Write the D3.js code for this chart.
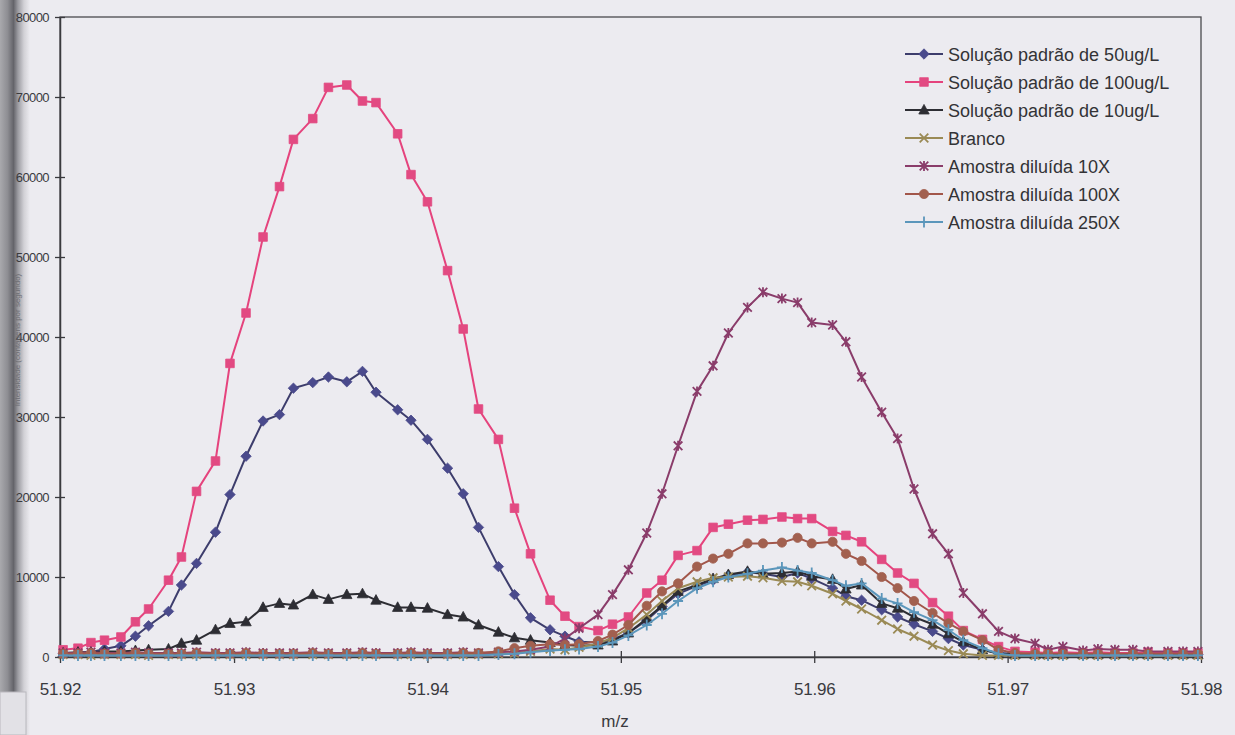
<!DOCTYPE html>
<html>
<head>
<meta charset="utf-8">
<script src="https://cdn.jsdelivr.net/npm/d3@7/dist/d3.min.js"></script>
<style>
  html, body { margin: 0; padding: 0; background: #ecebf0; }
  svg { display: block; }
  text { font-family: "Liberation Sans", Arial, sans-serif; }
</style>
</head>
<body>
<svg id="chart" width="1235" height="735"></svg>
<script>
// m/z of every scan point (shared by all series)
const mz = [
  51.92116, 51.92193, 51.92260, 51.92330, 51.92415, 51.92490, 51.92558, 51.92661, 51.92728, 51.92806,
  51.92904, 51.92979, 51.93062, 51.93150, 51.93235, 51.93307, 51.93407, 51.93488, 51.93583, 51.93664,
  51.93734, 51.93846, 51.93915, 51.94000, 51.94104, 51.94185, 51.94264, 51.94367, 51.94450, 51.94533,
  51.94634, 51.94711, 51.94784, 51.94882, 51.94957, 51.95039, 51.95134, 51.95213, 51.95296, 51.95394,
  51.95477, 51.95556, 51.95655, 51.95735, 51.95833, 51.95914, 51.95987, 51.96095, 51.96164, 51.96245,
  51.96349, 51.96431, 51.96516, 51.96612, 51.96694, 51.96771, 51.96870, 51.96953, 51.97038, 51.97142,
  51.97209, 51.97286, 51.97390, 51.97467, 51.97555, 51.97648, 51.97726, 51.97829, 51.97907, 51.97984
];

// intensities
const padrao50 = [
  400, 500, 600, 1000, 1400, 2600, 3900, 5700, 9000, 11700,
  15600, 20300, 25100, 29500, 30300, 33600, 34300, 35000, 34400, 35700,
  33100, 30900, 29600, 27200, 23600, 20400, 16200, 11300, 7800, 4900,
  3400, 2600, 1900, 1800, 2200, 3000, 4600, 6300, 7900, 8900,
  9600, 10200, 10600, 10400, 10000, 10500, 9800, 8600, 7600, 7100,
  5900, 5000, 4100, 3200, 2300, 1500, 900, 500, 400, 400,
  300, 400, 300, 300, 300, 300, 300, 300, 300, 300
];
const padrao100 = [
  900, 1100, 1800, 2100, 2500, 4400, 6000, 9600, 12500, 20700,
  24500, 36700, 43000, 52500, 58800, 64700, 67300, 71200, 71500, 69500,
  69300, 65400, 60300, 56900, 48300, 41000, 31000, 27200, 18600, 12900,
  7100, 5100, 3800, 3300, 4100, 5000, 8000, 9600, 12700, 13300,
  16200, 16600, 17100, 17200, 17500, 17300, 17300, 15700, 15200, 14400,
  12200, 10500, 9200, 6800, 5100, 3300, 2200, 1300, 700, 600,
  500, 600, 500, 600, 500, 500, 600, 500, 500, 500
];
const padrao10 = [
  500, 600, 600, 700, 700, 800, 900, 1000, 1700, 2100,
  3400, 4200, 4400, 6200, 6700, 6500, 7800, 7200, 7800, 7900,
  7100, 6200, 6200, 6100, 5300, 5000, 4000, 3100, 2400, 2100,
  1800, 1500, 1400, 1500, 2000, 3000, 4800, 6400, 8200, 9000,
  9800, 10300, 10700, 10400, 10500, 10700, 10100, 9700, 8500, 9000,
  6700, 6100, 5000, 4100, 2900, 1900, 900, 400, 300, 300,
  300, 300, 300, 300, 300, 300, 300, 300, 300, 300
];
const branco = [
  300, 300, 200, 300, 300, 300, 200, 300, 300, 300,
  300, 300, 300, 300, 300, 300, 300, 300, 300, 300,
  300, 300, 300, 300, 300, 300, 300, 400, 500, 700,
  1000, 900, 1200, 1700, 2400, 3600, 5300, 7000, 8600, 9400,
  9900, 10000, 10100, 9900, 9500, 9400, 8900, 7900, 7000, 6000,
  4600, 3500, 2600, 1500, 800, 400, 200, 200, 200, 200,
  200, 200, 200, 200, 200, 200, 200, 200, 200, 200
];
const diluida10 = [
  500, 500, 600, 500, 500, 600, 500, 500, 500, 600,
  500, 500, 600, 500, 500, 500, 600, 500, 500, 600,
  500, 500, 600, 500, 500, 600, 500, 600, 700, 900,
  1300, 2300, 3600, 5300, 7800, 10900, 15500, 20400, 26400, 33200,
  36400, 40500, 43700, 45600, 44800, 44300, 41800, 41500, 39400, 35000,
  30600, 27300, 21000, 15400, 12900, 8000, 5400, 3200, 2300, 1700,
  900, 1300, 800, 1000, 900, 900, 700, 700, 700, 700
];
const diluida100 = [
  400, 400, 500, 400, 400, 500, 400, 400, 400, 500,
  400, 400, 500, 400, 400, 400, 500, 400, 400, 500,
  400, 400, 500, 400, 400, 500, 500, 700, 1100, 1400,
  1600, 1500, 1600, 2000, 2800, 4000, 6400, 8200, 9200, 11300,
  12300, 12900, 14200, 14200, 14300, 14900, 14200, 14400, 12900, 12000,
  10000, 8600, 7000, 5500, 4200, 3200, 2100, 900, 500, 400,
  400, 400, 400, 400, 400, 400, 400, 400, 400, 400
];
const diluida250 = [
  200, 200, 200, 200, 200, 200, 200, 200, 200, 200,
  200, 200, 200, 200, 200, 200, 200, 200, 200, 200,
  200, 200, 200, 200, 200, 200, 200, 300, 400, 600,
  800, 900, 1000, 1300, 1800, 2700, 4000, 5400, 7000, 8600,
  9400, 10000, 10400, 10800, 11200, 10800, 10500, 9600, 8900, 9200,
  7300, 6700, 5600, 4600, 3400, 2100, 1100, 400, 200, 200,
  200, 200, 200, 200, 200, 200, 200, 200, 200, 200
];

const seriesNames = [
  "Solução padrão de 50ug/L",
  "Solução padrão de 100ug/L",
  "Solução padrão de 10ug/L",
  "Branco",
  "Amostra diluída 10X",
  "Amostra diluída 100X",
  "Amostra diluída 250X"
];
const seriesValues = [padrao50, padrao100, padrao10, branco, diluida10, diluida100, diluida250];
const xTickValues = [51.921, 51.93, 51.94, 51.95, 51.96, 51.97, 51.98];
const yTickValues = [0, 10000, 20000, 30000, 40000, 50000, 60000, 70000, 80000];
const xTitle = "m/z";
const yTitle = "Intensidade (contagens por segundo)";

// per-series look
const styles = [
  { line: "#3d3d6c", fill: "#4a4a8c", marker: "diamond" },
  { line: "#e5437d", fill: "#e24a82", marker: "square" },
  { line: "#2d2d33", fill: "#2d2d33", marker: "triangle" },
  { line: "#9a8a55", fill: "#9a8a55", marker: "cross" },
  { line: "#8a3c6a", fill: "#8a3c6a", marker: "star" },
  { line: "#a2564a", fill: "#a2604f", marker: "circle" },
  { line: "#5b96bb", fill: "#5b96bb", marker: "plus" }
];

const svg = d3.select("#chart");
const W = 1235, H = 735;
const plot = { left: 60, right: 1201, top: 17, bottom: 657 };

// page shading along the left edge (binding)
const defs = svg.append("defs");
const grad = defs.append("linearGradient").attr("id", "binding")
  .attr("x1", "0").attr("x2", "1").attr("y1", "0").attr("y2", "0");
[[0, "#a9a9ad"], [0.25, "#8e8e93"], [0.45, "#64646a"], [0.6, "#9c9ca2"], [0.8, "#d2d1d6"], [1, "#ecebf0"]]
  .forEach(([o, c]) => grad.append("stop").attr("offset", o).attr("stop-color", c));
svg.append("rect").attr("x", 0).attr("y", 0).attr("width", 30).attr("height", H).attr("fill", "url(#binding)");
svg.append("rect").attr("x", 0).attr("y", 692).attr("width", 26).attr("height", 43)
  .attr("fill", "#e2e1e6").attr("stroke", "#b9b8be").attr("stroke-width", 1);

const x = d3.scaleLinear().domain([51.921, 51.98]).range([plot.left, plot.right]);
const y = d3.scaleLinear().domain([0, 80000]).range([plot.bottom, plot.top]);

// plot frame
svg.append("rect")
  .attr("x", plot.left).attr("y", plot.top)
  .attr("width", plot.right - plot.left).attr("height", plot.bottom - plot.top)
  .attr("fill", "none").attr("stroke", "#4a4a4e").attr("stroke-width", 1.3);

// axes with crossing tick marks
const yAxis = svg.append("g")
  .attr("transform", `translate(${plot.left},0)`)
  .call(d3.axisLeft(y).tickValues(yTickValues).tickSizeInner(5).tickSizeOuter(0).tickPadding(6)
    .tickFormat(d3.format("d")));
yAxis.selectAll(".tick line").attr("x1", 5).attr("x2", -5);
yAxis.select(".domain").attr("stroke", "#3a3a3e").attr("stroke-width", 1.5);
yAxis.selectAll(".tick line").attr("stroke", "#3a3a3e").attr("stroke-width", 1.3);
yAxis.selectAll(".tick text")
  .attr("font-size", 13).attr("letter-spacing", -0.6).attr("fill", "#3a3a3e")
  .attr("font-family", "Liberation Sans, Arial, sans-serif");

const xAxis = svg.append("g")
  .attr("transform", `translate(0,${plot.bottom})`)
  .call(d3.axisBottom(x).tickValues(xTickValues).tickSizeInner(6).tickSizeOuter(0).tickPadding(20)
    .tickFormat(d3.format(".2f")));
xAxis.selectAll(".tick line").attr("y1", -6).attr("y2", 6).attr("stroke", "#3a3a3e").attr("stroke-width", 1.3);
xAxis.select(".domain").attr("stroke", "#3a3a3e").attr("stroke-width", 1.5);
xAxis.selectAll(".tick text")
  .attr("font-size", 17).attr("fill", "#3a3a3e").attr("letter-spacing", -0.2)
  .attr("font-family", "Liberation Sans, Arial, sans-serif");

svg.append("text")
  .attr("x", 615).attr("y", 727)
  .attr("text-anchor", "middle").attr("font-size", 17).attr("fill", "#3a3a3e")
  .text(xTitle);

svg.append("text")
  .attr("transform", "translate(20,340) rotate(-90)")
  .attr("text-anchor", "middle").attr("font-size", 8).attr("fill", "#6d6d72")
  .text(yTitle);

// marker shapes
function markerPath(type) {
  const p = d3.path();
  switch (type) {
    case "diamond":
      p.moveTo(0, -5.2); p.lineTo(5.2, 0); p.lineTo(0, 5.2); p.lineTo(-5.2, 0); p.closePath(); break;
    case "square":
      p.rect(-4.3, -4.3, 8.6, 8.6); break;
    case "triangle":
      p.moveTo(0, -5.6); p.lineTo(5.2, 4); p.lineTo(-5.2, 4); p.closePath(); break;
    case "circle":
      p.arc(0, 0, 4.6, 0, 2 * Math.PI); break;
    case "cross":
      p.moveTo(-4.3, -4.3); p.lineTo(4.3, 4.3); p.moveTo(4.3, -4.3); p.lineTo(-4.3, 4.3); break;
    case "star":
      p.moveTo(-4.3, -4.3); p.lineTo(4.3, 4.3); p.moveTo(4.3, -4.3); p.lineTo(-4.3, 4.3);
      p.moveTo(0, -5); p.lineTo(0, 5); break;
    case "plus":
      p.moveTo(-5, 0); p.lineTo(5, 0); p.moveTo(0, -5.5); p.lineTo(0, 5.5); break;
  }
  return p.toString();
}
const strokeOnly = t => t === "cross" || t === "star" || t === "plus";

const line = d3.line().x(d => x(d[0])).y(d => y(d[1]));

const gSeries = svg.append("g");
seriesValues.forEach((vals, i) => {
  const st = styles[i];
  const pts = vals.map((v, k) => [mz[k], v]);
  const g = gSeries.append("g");
  g.append("path").datum(pts)
    .attr("d", line).attr("fill", "none")
    .attr("stroke", st.line).attr("stroke-width", 2).attr("stroke-linejoin", "round");
  g.selectAll("path.m").data(pts).join("path").attr("class", "m")
    .attr("transform", d => `translate(${x(d[0])},${y(d[1])})`)
    .attr("d", markerPath(st.marker))
    .attr("fill", strokeOnly(st.marker) ? "none" : st.fill)
    .attr("stroke", st.fill)
    .attr("stroke-width", strokeOnly(st.marker) ? 1.8 : 0.8);
});

// legend
const legend = svg.append("g");
seriesNames.forEach((name, i) => {
  const st = styles[i];
  const cy = 54 + i * 28;
  const row = legend.append("g");
  row.append("line").attr("x1", 905).attr("x2", 943).attr("y1", cy).attr("y2", cy)
    .attr("stroke", st.line).attr("stroke-width", 2);
  row.append("path").attr("transform", `translate(924,${cy})`)
    .attr("d", markerPath(st.marker))
    .attr("fill", strokeOnly(st.marker) ? "none" : st.fill)
    .attr("stroke", st.fill).attr("stroke-width", strokeOnly(st.marker) ? 1.8 : 0.8);
  row.append("text").attr("x", 948).attr("y", cy + 7)
    .attr("font-size", 18).attr("fill", "#333336")
    .text(name);
});
</script>
</body>
</html>
